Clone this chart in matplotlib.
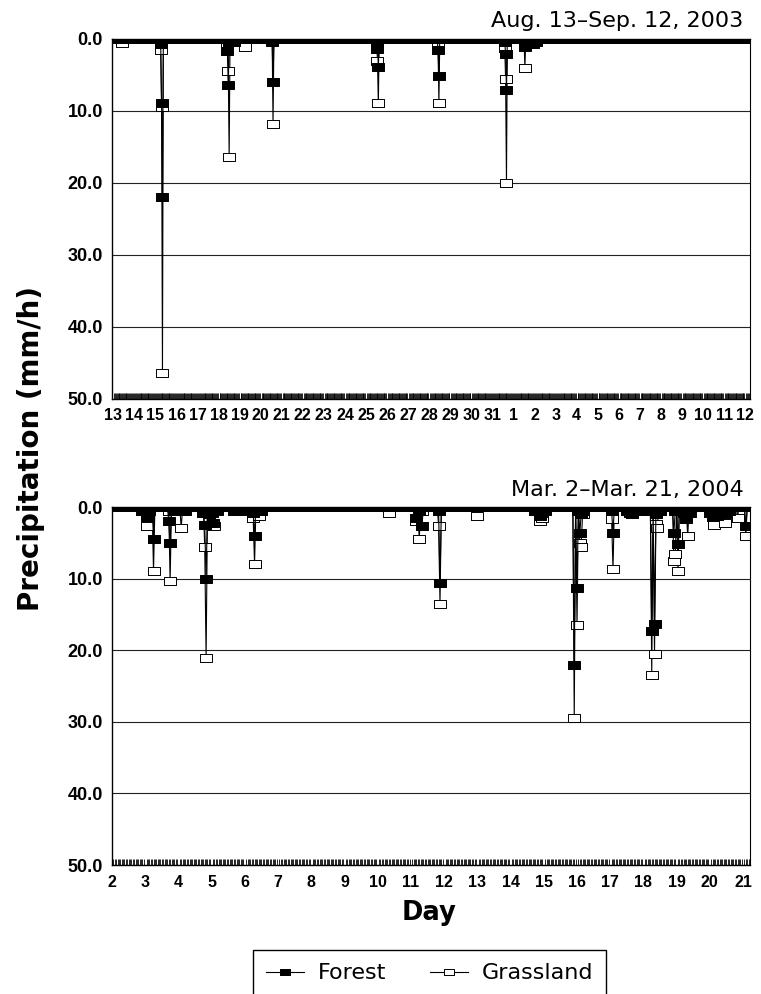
import numpy as np
import matplotlib
matplotlib.use("Agg")
import matplotlib.pyplot as plt
from matplotlib.lines import Line2D

plt.rcParams['font.family'] = 'DejaVu Sans'

# hourly precipitation (mm/h); hours that are not listed had no rain
# Aug. 13 - Sep. 12, 2003, hour 0 = Aug. 13 00:00
aug_hours  = [10, 54, 55, 56, 130, 131, 132, 134, 136, 138, 150, 181, 182,
              300, 301, 302, 370, 371, 446, 447, 448, 469, 472, 475, 478, 482]
aug_forest = [0.0, 0.8, 9.0, 22.0, 1.8, 6.5, 0.5, 0.5, 0.5, 0.5, 0.0, 0.5, 6.0,
              1.5, 0.5, 4.0, 1.6, 5.2, 0.5, 2.1, 7.1, 1.2, 0.8, 0.5, 0.8, 0.5]
aug_grass  = [0.6, 1.6, 9.5, 46.5, 0.6, 4.5, 16.4, 0.0, 0.0, 0.0, 1.2, 0.0, 11.9,
              0.5, 3.1, 9.0, 0.8, 9.0, 1.3, 5.6, 20.0, 4.1, 0.0, 0.0, 0.0, 0.0]
aug_days = list(range(13, 32)) + list(range(1, 13))

# Mar. 2 - Mar. 21, 2004, hour 0 = Mar. 2 00:00
mar_hours  = [22, 25, 27, 30, 41, 42, 45, 48, 50, 53, 66, 67, 68, 70, 72, 73, 74, 76,
              88, 91, 100, 102, 103, 106, 108, 200, 220, 222, 224, 236, 237, 264,
              306, 309, 311, 313, 334, 336, 337, 338, 339, 340, 361, 362,
              372, 374, 376, 378, 380, 388, 390, 391, 392, 393, 394, 396,
              406, 407, 409, 410, 413, 415, 416, 418, 432, 434, 435, 437, 440,
              443, 446, 452, 458]
mar_forest = [0.5, 1.4, 0.5, 4.5, 2.0, 5.0, 0.5, 0.5, 0.5, 0.5, 0.8, 2.5, 10.0, 1.0, 0.8, 2.2, 0.5, 0.5,
              0.5, 0.5, 0.5, 0.8, 4.1, 0.5, 0.5, 0.0, 1.6, 0.5, 2.6, 0.5, 10.6, 0.0,
              0.5, 1.2, 0.8, 0.5, 22.1, 11.3, 0.5, 3.7, 1.0, 0.5, 0.5, 3.7,
              0.5, 0.8, 1.0, 0.5, 0.5, 0.5, 17.3, 0.5, 16.4, 1.0, 0.5, 0.5,
              3.6, 0.5, 5.1, 0.5, 0.8, 1.7, 0.5, 0.8, 0.8, 1.4, 1.0, 1.2, 0.8,
              1.0, 0.5, 0.0, 2.7]
mar_grass  = [0.0, 2.6, 0.0, 9.0, 0.5, 10.4, 0.0, 0.0, 3.0, 0.0, 0.0, 5.6, 21.1, 0.0, 0.0, 0.5, 2.7, 0.0,
              0.0, 0.0, 0.0, 1.5, 8.0, 1.2, 0.0, 0.8, 2.0, 4.5, 0.5, 2.6, 13.5, 1.2,
              0.0, 2.0, 1.6, 0.0, 29.5, 16.5, 0.5, 5.0, 5.6, 1.0, 1.7, 8.7,
              0.0, 0.0, 0.0, 0.0, 0.0, 0.0, 23.4, 0.5, 20.5, 2.4, 3.0, 0.0,
              7.6, 6.6, 9.0, 0.0, 0.0, 0.5, 4.1, 0.0, 0.0, 0.5, 2.5, 0.0, 0.0,
              2.2, 0.0, 1.5, 4.1]
mar_days = list(range(2, 22))

yticks = [0, 10, 20, 30, 40, 50]
ytick_labels = ['0.0', '10.0', '20.0', '30.0', '40.0', '50.0']

rect = [(-1, -0.7), (1, -0.7), (1, 0.7), (-1, 0.7), (-1, -0.7)]
tickfont = {'family': 'Liberation Sans', 'weight': 'bold'}


def hourly(hours, vals, n):
    s = np.zeros(n)
    s[hours] = vals
    return s


def panel(ax, hours, forest, grass, days, ndays, xlim, title):
    n = ndays * 24
    t = np.arange(n)
    ax.plot(t, hourly(hours, grass, n), color='k', lw=0.8, marker=rect, ms=8,
            mfc='white', mec='k', mew=0.7)
    ax.plot(t, hourly(hours, forest, n), color='k', lw=0.8, marker=rect, ms=8,
            mfc='k', mec='k', mew=0.7)
    ax.set_yticks(yticks)
    ax.set_yticklabels(ytick_labels, fontdict=tickfont, fontsize=13)
    ax.yaxis.grid(True, color='#222222', lw=0.8)
    ax.set_xticks(np.arange(len(days)) * 24)
    ax.set_xticklabels(days, fontdict=tickfont, fontsize=11.5)
    ax.set_xticks(np.arange(0, n), minor=True)
    # ticks first, set_xticks would widen the limits
    ax.set_xlim(*xlim)
    ax.set_ylim(50, 0)
    ax.tick_params(axis='x', which='major', length=0, pad=7)
    ax.tick_params(axis='x', which='minor', direction='in', length=4.3, width=0.6)
    ax.tick_params(axis='y', length=0, pad=6.5)
    for s in ['left', 'bottom', 'top']:
        ax.spines[s].set_linewidth(1.0)
    ax.spines['right'].set_linewidth(0.8)
    ax.text(0.99, 1.02, title, transform=ax.transAxes, ha='right', va='bottom',
            fontsize=16)


fig = plt.figure(figsize=(7.61, 9.94), dpi=100)
W, H = 761, 994
ax1 = fig.add_axes([112 / W, 1 - 398.5 / H, 638 / W, 360 / H])
ax2 = fig.add_axes([112 / W, 1 - 865 / H, 638 / W, 358 / H])

panel(ax1, aug_hours, aug_forest, aug_grass, aug_days, 31, (-1.5, 725.5),
      'Aug. 13\u2013Sep. 12, 2003')
panel(ax2, mar_hours, mar_forest, mar_grass, mar_days, 20, (0, 461),
      'Mar. 2\u2013Mar. 21, 2004')

fig.text(31.5 / W, 1 - 448 / H, 'Precipitation (mm/h)', rotation=90,
         ha='center', va='center', fontsize=20, fontweight='bold')
fig.text(429 / W, 1 - 913 / H, 'Day', ha='center', va='center',
         fontsize=18.5, fontweight='bold')

handles = [Line2D([], [], color='k', lw=0.8, marker=rect, ms=6.5, mfc='k', mec='k', mew=0.7),
           Line2D([], [], color='k', lw=0.8, marker=rect, ms=6.5, mfc='white', mec='k', mew=0.7)]
leg = fig.legend(handles, ['Forest', 'Grassland'], loc='upper left',
                 bbox_to_anchor=(253 / W, 1 - 950 / H), ncol=2, fontsize=16,
                 frameon=True, fancybox=False, edgecolor='k', framealpha=1,
                 handlelength=1.7, handletextpad=0.6, columnspacing=2.0,
                 borderpad=0.6, borderaxespad=0)
leg.get_frame().set_linewidth(1.0)

fig.savefig('out.png', dpi=100)
